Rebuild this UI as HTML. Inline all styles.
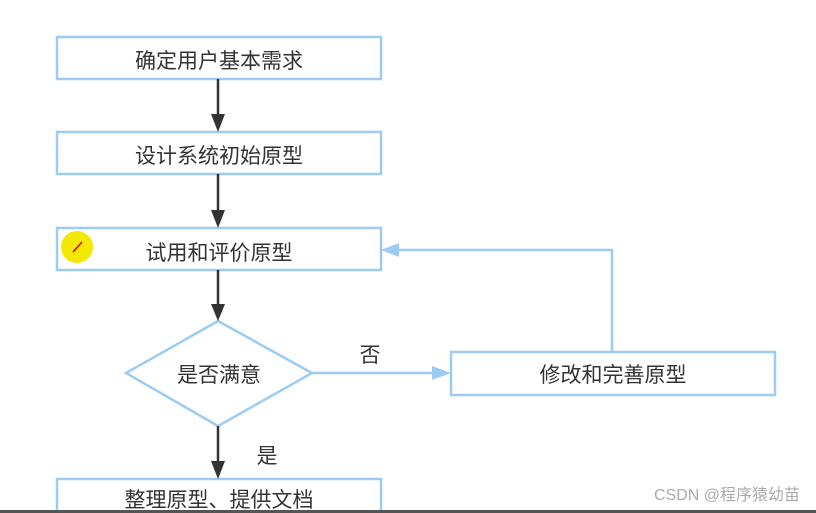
<html><body style="margin:0;width:816px;height:513px;background:#fff;overflow:hidden;position:relative;font-family:'Liberation Sans','Noto Sans CJK SC',sans-serif">
<svg width="816" height="513" style="position:absolute;left:0;top:0">
<g fill="#fff" stroke="#9ccbf3" stroke-width="2.5">
<rect x="57" y="37" width="324" height="42"/>
<rect x="57" y="132" width="324" height="42"/>
<rect x="57" y="228" width="324" height="42"/>
<rect x="451" y="352" width="324" height="43"/>
<rect x="57" y="479" width="324" height="50"/>
<polygon points="218,321 312,373 218,426 126,373"/>
<polyline points="612,352 612,250 395,250" fill="none"/>
<line x1="312" y1="373" x2="436" y2="373"/>
</g>
<g fill="#9ccbf3"><polygon points="381,250 399,243 399,257"/><polygon points="451,373 432,366 432,380"/></g>
<g stroke="#333" stroke-width="2.5"><line x1="218" y1="79" x2="218" y2="118"/><line x1="218" y1="174" x2="218" y2="214"/><line x1="218" y1="270" x2="218" y2="308"/><line x1="218" y1="426" x2="218" y2="465"/></g>
<g fill="#333"><polygon points="218,132 211,114 225,114"/><polygon points="218,228 211,210 225,210"/><polygon points="218,321 211,304 225,304"/><polygon points="218,479 211,461 225,461"/></g>
<circle cx="77" cy="247" r="16" fill="#f5e800"/>
<line x1="73" y1="252" x2="82" y2="242" stroke="#c00" stroke-width="1.5"/>
<rect x="0" y="510" width="816" height="3" fill="#555"/>
<g font-size="21" fill="#333" text-anchor="middle" font-family="'Liberation Sans','Noto Sans CJK SC',sans-serif">
<text x="219" y="68">确定用户基本需求</text>
<text x="219" y="163">设计系统初始原型</text>
<text x="219" y="260">试用和评价原型</text>
<text x="219" y="382">是否满意</text>
<text x="613" y="382">修改和完善原型</text>
<text x="370" y="362">否</text>
<text x="267" y="463">是</text>
<text x="219" y="507">整理原型、提供文档</text>
</g>
<text x="800" y="500" font-size="16" fill="#aaa" text-anchor="end" font-family="'Liberation Sans','Noto Sans CJK SC',sans-serif">CSDN @程序猿幼苗</text>
</svg>
</body></html>
